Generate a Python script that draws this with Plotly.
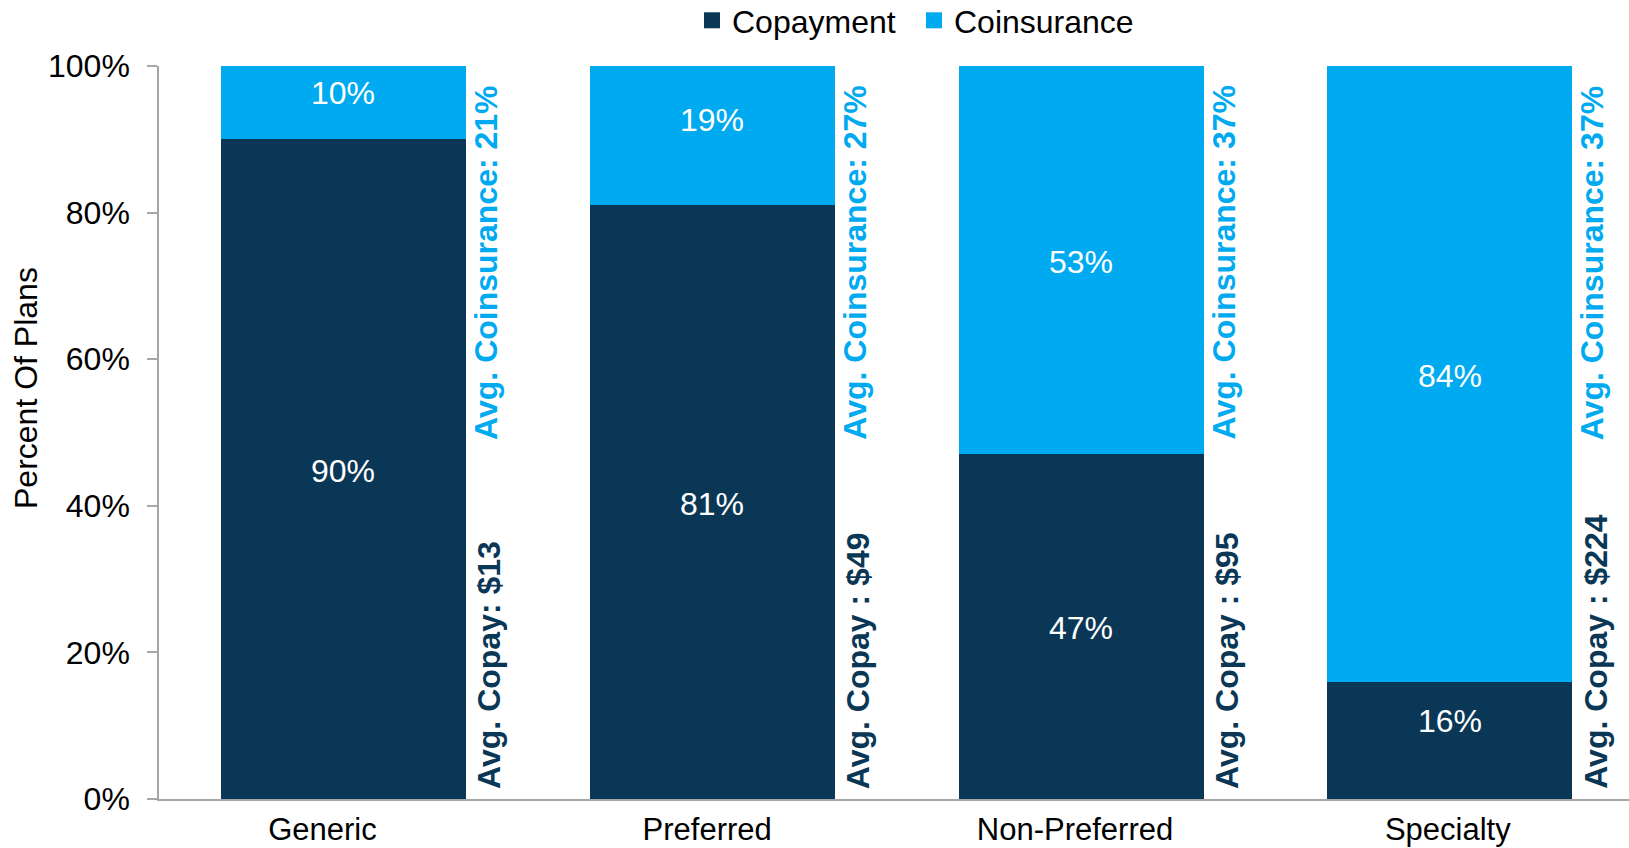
import plotly.graph_objects as go

# ---- data ----
categories = ["Generic", "Preferred", "Non-Preferred", "Specialty"]
copayment_pct = [90, 81, 47, 16]
coinsurance_pct = [10, 19, 53, 84]
avg_coinsurance = ["21%", "27%", "37%", "37%"]
avg_copay = ["$13", "$49", "$95", "$224"]
copay_separator = [": ", " : ", " : ", " : "]
y_ticks = [0, 20, 40, 60, 80, 100]

# ---- style ----
NAVY = "#0A3756"
BLUE = "#00AAF0"
FONT = "Liberation Sans, Arial, sans-serif"
FS = 32
W, H = 1629, 848
ML, MR, MT, MB = 159, 0, 66, 49
CAT_PX = 368.8  # pixel width of one category
plot_w = W - ML - MR
plot_h = H - MT - MB
x_range = [-0.5, -0.5 + plot_w / CAT_PX]
BAR_W = 245 / CAT_PX
COINS_DX = (245 / 2 + 20) / CAT_PX
COPAY_DX = (245 / 2 + 23) / CAT_PX
tick_shift_px = [-21, -5, -6, -2]
copay_label_shift = [-2, -2, -1, 19]      # px, label nudges
coins_label_shift = [10, 16, -2, -2]

def px_x(px):
    return (px - ML) / plot_w

def px_y(px):
    return (H - MB - px) / plot_h

def px_to_data_y(px):
    return 100 * px_y(px)

xs = list(range(len(categories)))

fig = go.Figure()
fig.add_trace(go.Bar(
    x=xs, y=copayment_pct, width=BAR_W, marker_color=NAVY, marker_line_width=0,
    showlegend=False, hoverinfo="skip", name="Copayment",
))
fig.add_trace(go.Bar(
    x=xs, y=coinsurance_pct, width=BAR_W, marker_color=BLUE, marker_line_width=0,
    showlegend=False, hoverinfo="skip", name="Coinsurance",
))
# legend proxies
for name, col in [("Copayment", NAVY), ("Coinsurance", BLUE)]:
    fig.add_trace(go.Scatter(
        x=[None], y=[None], mode="markers", name=name,
        marker=dict(symbol="square", size=18, color=col, line_width=0),
    ))

# value labels in segment centres
for i in xs:
    fig.add_annotation(
        x=i, y=copayment_pct[i] / 2, xref="x", yref="y",
        text=f"{copayment_pct[i]}%", showarrow=False, yshift=copay_label_shift[i],
        font=dict(color="white", size=FS, family=FONT),
    )
    fig.add_annotation(
        x=i, y=copayment_pct[i] + coinsurance_pct[i] / 2, xref="x", yref="y",
        text=f"{coinsurance_pct[i]}%", showarrow=False, yshift=coins_label_shift[i],
        font=dict(color="white", size=FS, family=FONT),
    )

# rotated side notes
for i in xs:
    fig.add_annotation(
        x=i + COINS_DX, y=px_to_data_y(84), xref="x", yref="y",
        text=f"<b>Avg. Coinsurance: {avg_coinsurance[i]}</b>",
        textangle=-90, showarrow=False, xanchor="center", yanchor="top",
        font=dict(color=BLUE, size=FS, family=FONT),
    )
    fig.add_annotation(
        x=i + COPAY_DX, y=px_to_data_y(791), xref="x", yref="y",
        text=f"<b>Avg. Copay{copay_separator[i]}{avg_copay[i]}</b>",
        textangle=-90, showarrow=False, xanchor="center", yanchor="bottom",
        font=dict(color=NAVY, size=FS, family=FONT),
    )

# y-axis title
fig.add_annotation(
    x=px_x(26), y=px_y(388), xref="paper", yref="paper",
    text="Percent Of Plans", textangle=-90, showarrow=False,
    xanchor="center", yanchor="middle",
    font=dict(size=FS, family=FONT, color="black"),
)

fig.update_layout(
    width=W, height=H, autosize=False,
    margin=dict(l=ML, r=MR, t=MT, b=MB, pad=0, autoexpand=False),
    barmode="stack", bargap=0,
    plot_bgcolor="white", paper_bgcolor="white",
    font=dict(family=FONT, size=FS, color="black"),
    legend=dict(
        orientation="h", traceorder="normal",
        x=px_x(692), xanchor="left",
        y=px_y(20.5), yanchor="middle",
        entrywidth=177, entrywidthmode="pixels",
        font=dict(size=FS, family=FONT, color="black"),
        bgcolor="rgba(0,0,0,0)", borderwidth=0,
        itemclick=False, itemdoubleclick=False,
    ),
    xaxis=dict(
        range=x_range, tickmode="array",
        tickvals=[i + s / CAT_PX for i, s in zip(xs, tick_shift_px)],
        ticktext=categories, showgrid=False, zeroline=False,
        showline=True, linecolor="#A6A6A6", linewidth=1.5,
        ticks="", tickfont=dict(size=31, family=FONT, color="black"),
        ticklabelstandoff=2, fixedrange=True, automargin=False,
    ),
    yaxis=dict(
        range=[0, 100], tickmode="array", tickvals=y_ticks,
        ticktext=[f"{v}%" for v in y_ticks], showgrid=False, zeroline=False,
        showline=True, linecolor="#A6A6A6", linewidth=1.5,
        ticks="outside", ticklen=10, tickcolor="#A6A6A6", tickwidth=1.5,
        tickfont=dict(size=FS, family=FONT, color="black"),
        ticklabelstandoff=11, fixedrange=True, automargin=False,
    ),
)

fig.write_html("out.html", config={"displayModeBar": False})
